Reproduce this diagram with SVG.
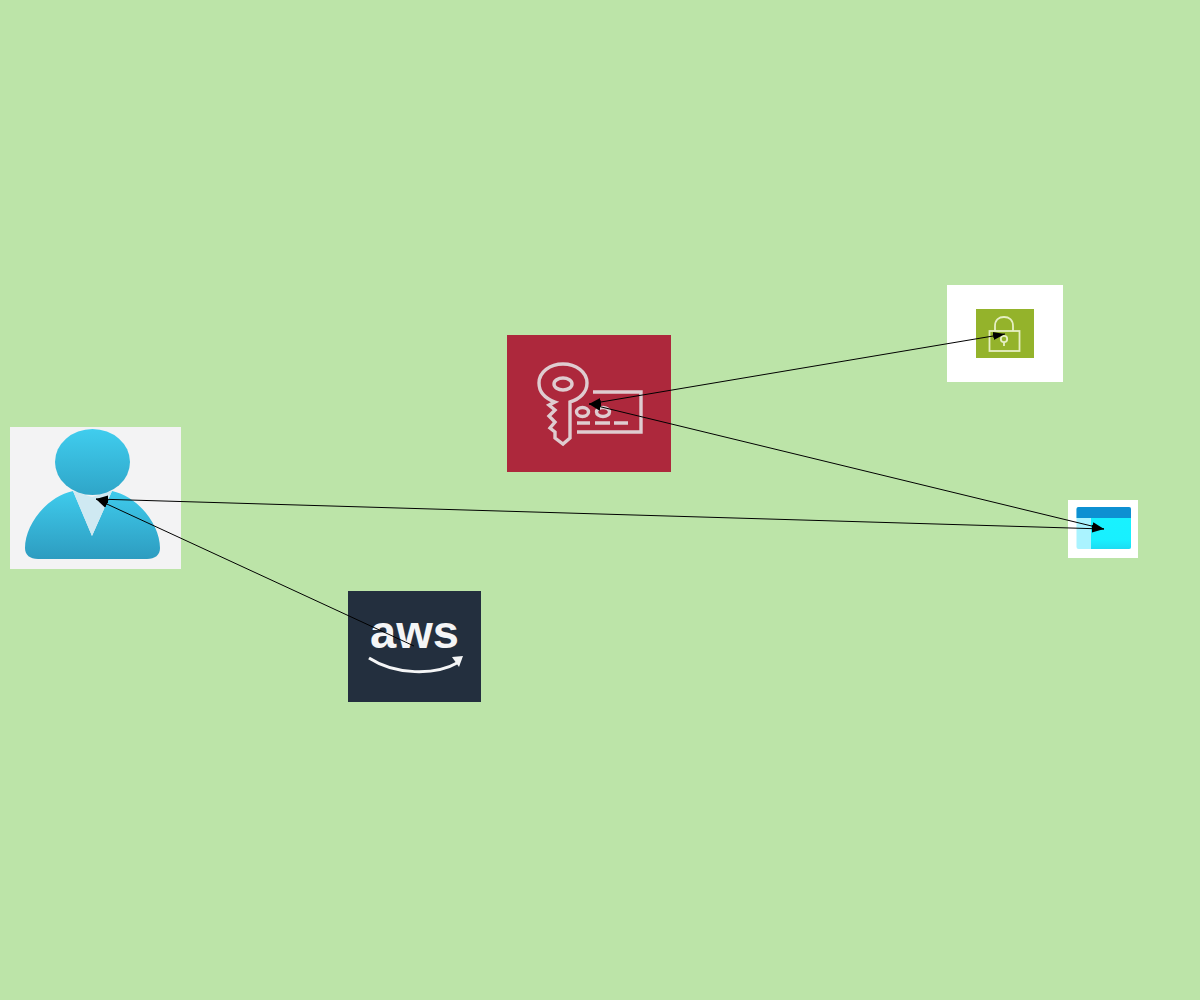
<svg xmlns="http://www.w3.org/2000/svg" width="1200" height="1000" viewBox="0 0 1200 1000">
<style>
.key{fill:none;stroke:#dfccd0;stroke-width:3.400}
.lock{fill:none;stroke:#e6efc4;stroke-width:1.800}
.edge{fill:none;stroke:#000;stroke-width:1}
</style>
<defs>
<linearGradient id="headFill" x1="0" y1="0" x2="0" y2="1"><stop offset="0" stop-color="#40cdee"/><stop offset="1" stop-color="#2fa5c8"/></linearGradient>
<linearGradient id="bodyFill" x1="0" y1="0" x2="0" y2="1"><stop offset="0" stop-color="#3fcbec"/><stop offset="1" stop-color="#2d9cc0"/></linearGradient>
<linearGradient id="appFill" x1="0" y1="0" x2="0" y2="1"><stop offset="0" stop-color="#18f2ff"/><stop offset="0.7" stop-color="#18f0ff"/><stop offset="1" stop-color="#1cdcf2"/></linearGradient>
<marker id="head" markerUnits="userSpaceOnUse" markerWidth="14" markerHeight="12" refX="12" refY="4" orient="auto-start-reverse" viewBox="0 0 14 8"><path d="M0 0L12 4L0 8Z" fill="#000"/></marker>
</defs>
<rect width="1200" height="1000" fill="#bce4a8"/>
<g id="user">
<rect x="10" y="427" width="171" height="142" fill="#f3f3f4"/>
<path d="M73 491C46 497 25 525 25 548C25 555 30 559 38 559H147C155 559 160 555 160 548C160 525 139 497 112 491L92 536Z" fill="url(#bodyFill)"/>
<path d="M73 491L92 536L112 491L92 497Z" fill="#cfe9f2"/>
<ellipse cx="92.500" cy="462" rx="37.500" ry="33" fill="url(#headFill)"/>
</g>
<g id="aws">
<rect x="348" y="591" width="133" height="111" fill="#232f3e"/>
<text x="370" y="648" font-family="'Liberation Sans',Arial,sans-serif" font-size="46" font-weight="700" textLength="89" lengthAdjust="spacingAndGlyphs" fill="#f4f5f6">aws</text>
<path d="M369 658C395 675 435 676 459 662" fill="none" stroke="#f4f5f6" stroke-width="3"/>
<path d="M452 657L463 656L459 667Z" fill="#f4f5f6"/>
</g>
<g id="key">
<rect x="507" y="335" width="164" height="137" fill="#ad283c"/>
<path class="key" d="M555 402C544 398 539 391 539 383C539 372 550 364 563 364C576 364 587 372 587 383C587 392 580 399 570 402V438L563 444L555 438V432L550 428L555 422L549 416L555 410L549 405L555 402Z"/>
<ellipse class="key" cx="563" cy="384" rx="9" ry="6"/>
<path class="key" d="M593 392H641V432H577"/>
<ellipse class="key" cx="582.500" cy="412" rx="6" ry="4.500"/>
<ellipse class="key" cx="603" cy="412" rx="6.500" ry="4.500"/>
<path class="key" d="M577 423H590M595 423H610M614 423H628"/>
</g>
<g id="lock">
<rect x="947" y="285" width="116" height="97" fill="#fff"/>
<rect x="976" y="309" width="58" height="49" fill="#94b32b"/>
<rect class="lock" x="989.500" y="331" width="30" height="20"/>
<path class="lock" d="M995 331V326C995 320 999 317 1004 317C1009 317 1013 320 1013 326V331"/>
<circle class="lock" cx="1004" cy="339" r="3.200"/>
<path class="lock" d="M1004 342V346"/>
</g>
<g id="app">
<rect x="1068" y="500" width="70" height="58" fill="#fff"/>
<rect x="1076.500" y="507" width="54.500" height="42" rx="2" fill="#aaf3ff"/>
<path d="M1091 518H1131V547Q1131 549 1129 549H1091Z" fill="url(#appFill)"/>
<path d="M1076.500 518V509Q1076.500 507 1078.500 507H1129Q1131 507 1131 509V518Z" fill="#0d90d2"/>
</g>
<g id="connectors">
<path class="edge" d="M96 499L1104 529" marker-start="url(#head)" marker-end="url(#head)"/>
<path class="edge" d="M414 646L96 499" marker-end="url(#head)"/>
<path class="edge" d="M589 404L1005 334" marker-start="url(#head)" marker-end="url(#head)"/>
<path class="edge" d="M589 404L1104 529" marker-start="url(#head)" marker-end="url(#head)"/>
</g>
</svg>
